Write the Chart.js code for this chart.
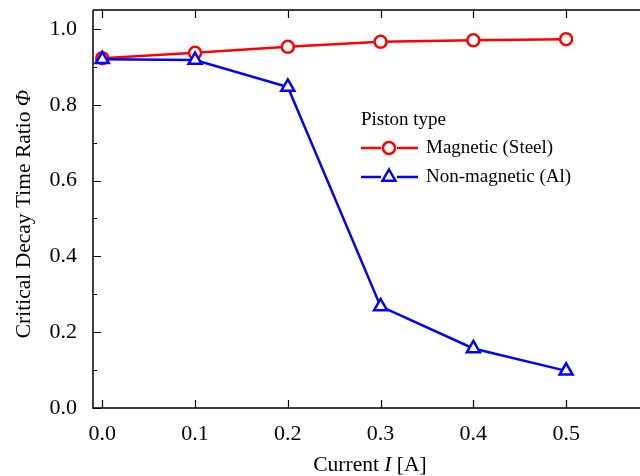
<!DOCTYPE html>
<html>
<head>
<meta charset="utf-8">
<script src="https://cdn.jsdelivr.net/npm/chart.js@4"></script>
<style>
  html, body { margin: 0; padding: 0; background: #fff; overflow: hidden; }
  #myChart { display: block; }
</style>
</head>
<body>
<canvas id="myChart" width="660" height="476"></canvas>
<script>
// data
const currents = [0.0, 0.1, 0.2, 0.3, 0.4, 0.5];
const magneticSteel = [0.923, 0.937, 0.953, 0.966, 0.970, 0.973];
const nonMagneticAl = [0.920, 0.918, 0.847, 0.268, 0.157, 0.098];
const xTicks = [0.0, 0.1, 0.2, 0.3, 0.4, 0.5];
const yTicks = [0.0, 0.2, 0.4, 0.6, 0.8, 1.0];
const yMinorTicks = [0.1, 0.3, 0.5, 0.7, 0.9];

const FONT = '"Liberation Serif", "DejaVu Serif", serif';

function toPoints(ys) {
  return currents.map(function(x, i) { return { x: x, y: ys[i] }; });
}

// spines, inward ticks, axis titles and the legend
const decor = {
  id: 'decor',
  afterDraw(chart) {
    const c = chart.ctx;
    const a = chart.chartArea;
    const xs = chart.scales.x;
    const ys = chart.scales.y;
    c.save();
    c.strokeStyle = '#000';
    c.lineWidth = 1.5;
    c.beginPath();
    c.moveTo(a.left, a.top);
    c.lineTo(a.left, a.bottom);
    c.lineTo(a.right, a.bottom);
    c.moveTo(a.left, a.top);
    c.lineTo(a.right, a.top);
    c.stroke();

    c.lineWidth = 1.2;
    c.beginPath();
    xTicks.forEach(function(v) {
      const px = Math.round(xs.getPixelForValue(v)) + 0.5;
      c.moveTo(px, a.bottom); c.lineTo(px, a.bottom - 8);
      c.moveTo(px, a.top); c.lineTo(px, a.top + 8);
    });
    yTicks.forEach(function(v) {
      const py = Math.round(ys.getPixelForValue(v)) + 0.5;
      c.moveTo(a.left, py); c.lineTo(a.left + 8, py);
    });
    yMinorTicks.forEach(function(v) {
      const py = Math.round(ys.getPixelForValue(v)) + 0.5;
      c.moveTo(a.left, py); c.lineTo(a.left + 4, py);
    });
    c.stroke();

    // tick labels
    c.fillStyle = '#000';
    c.font = '22px ' + FONT;
    c.textAlign = 'center';
    c.textBaseline = 'middle';
    xTicks.forEach(function(v) {
      c.fillText(v.toFixed(1), xs.getPixelForValue(v), a.bottom + 26);
    });
    c.textAlign = 'right';
    yTicks.forEach(function(v) {
      c.fillText(v.toFixed(1), a.left - 16, ys.getPixelForValue(v));
    });

    // x title
    c.textBaseline = 'alphabetic';
    drawParts(c, [['Current ', false], ['I', true], [' [A]', false]], 370, 471);

    // y title
    c.save();
    c.translate(30, 214);
    c.rotate(-Math.PI / 2);
    drawParts(c, [['Critical Decay Time Ratio ', false], ['\u03A6', true]], 0, 0);
    c.restore();

    // legend
    c.font = '19px ' + FONT;
    c.textAlign = 'left';
    c.textBaseline = 'middle';
    c.fillText('Piston type', 361, 120);
    legendRow(c, 148, 'rgb(255,0,0)', 'circle', 'Magnetic (Steel)');
    legendRow(c, 177, 'rgb(0,0,255)', 'triangle', 'Non-magnetic (Al)');
    c.restore();
  }
};

function drawParts(c, parts, cx, y) {
  let total = 0;
  parts.forEach(function(p) {
    c.font = (p[1] ? 'italic ' : '') + '21.5px ' + FONT;
    total += c.measureText(p[0]).width;
  });
  let x = cx - total / 2;
  c.textAlign = 'left';
  parts.forEach(function(p) {
    c.font = (p[1] ? 'italic ' : '') + '21.5px ' + FONT;
    c.fillText(p[0], x, y);
    x += c.measureText(p[0]).width;
  });
}

function legendRow(c, y, color, shape, label) {
  c.strokeStyle = color;
  c.lineWidth = 2.5;
  c.beginPath();
  c.moveTo(361, y); c.lineTo(381, y);
  c.moveTo(397, y); c.lineTo(418, y);
  c.stroke();
  c.fillStyle = '#fff';
  c.beginPath();
  if (shape === 'circle') {
    c.arc(389, y, 6, 0, Math.PI * 2);
  } else {
    const r = 7.5;
    c.moveTo(389, y - r);
    c.lineTo(389 + r * 0.866, y + r / 2);
    c.lineTo(389 - r * 0.866, y + r / 2);
    c.closePath();
  }
  c.fill();
  c.stroke();
  c.fillStyle = '#000';
  c.font = '19px ' + FONT;
  c.fillText(label, 426, y);
}

const ctx = document.getElementById('myChart');
const chart = new Chart(ctx, {
  type: 'scatter',
  data: {
    datasets: [
      {
        label: 'Magnetic (Steel)',
        data: toPoints(magneticSteel),
        showLine: true,
        borderColor: 'rgb(255, 0, 0)',
        backgroundColor: '#fff',
        borderWidth: 2.5,
        pointStyle: 'circle',
        pointRadius: 6,
        pointBorderWidth: 2.5,
        order: 2
      },
      {
        label: 'Non-magnetic (Al)',
        data: toPoints(nonMagneticAl),
        showLine: true,
        borderColor: 'rgb(0, 0, 255)',
        backgroundColor: '#fff',
        borderWidth: 2.5,
        pointStyle: 'triangle',
        pointRadius: 7.5,
        pointBorderWidth: 2.5,
        order: 1
      }
    ]
  },
  options: {
    responsive: false,
    animation: false,
    layout: { padding: { left: 0, top: 9, right: 0, bottom: 0 } },
    plugins: {
      legend: { display: false },
      tooltip: { enabled: false }
    },
    scales: {
      x: {
        type: 'linear',
        min: -0.01,
        max: 0.5904,
        grid: { display: false, drawTicks: false },
        border: { display: false },
        ticks: { display: false },
        afterFit: function(s) { s.height = 68; }
      },
      y: {
        min: 0,
        max: 1.05,
        grid: { display: false, drawTicks: false },
        border: { display: false },
        ticks: { display: false },
        afterFit: function(s) { s.width = 93; }
      }
    }
  },
  plugins: [decor]
});
</script>
</body>
</html>
